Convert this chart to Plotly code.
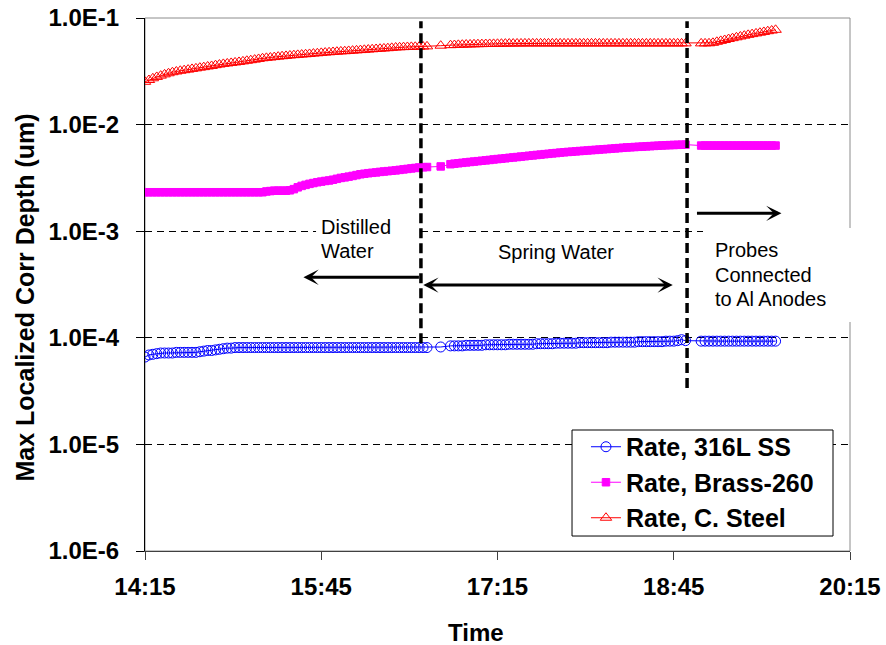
import pandas as pd
import plotly.graph_objects as go

# ---------------- data ----------------
DAY = "2000-01-01"
START = "14:15"

# minutes elapsed since 14:15 for every reading
ELAPSED_MIN = [
    0, 2, 4, 6, 8, 10, 12, 14, 16, 18,
    20, 22, 24, 26, 28, 30, 32, 34, 36, 38,
    40, 42, 44, 46, 48, 50, 52, 54, 56, 58,
    60, 62, 64, 66, 68, 70, 72, 74, 76, 78,
    80, 82, 84, 86, 88, 90, 92, 94, 96, 98,
    100, 102, 104, 106, 108, 110, 112, 114, 116, 118,
    120, 122, 124, 126, 128, 130, 132, 134, 136, 138,
    140, 142, 144,
    151,
    156, 158, 160, 162, 164, 166, 168, 170, 172, 174,
    176, 178, 180, 182, 184, 186, 188, 190, 192, 194,
    196, 198, 200, 202, 204, 206, 208, 210, 212, 214,
    216, 218, 220, 222, 224, 226, 228, 230, 232, 234,
    236, 238, 240, 242, 244, 246, 248, 250, 252, 254,
    256, 258, 260, 262, 264, 266, 268, 270, 272, 274,
    276,
    284, 286, 288, 290, 292, 294, 296, 298, 300, 302,
    304, 306, 308, 310, 312, 314, 316, 318, 320, 322,
]

RATE_316L_SS = [
    6.6e-5, 6.9e-5, 7.0e-5, 7.1e-5, 7.2e-5, 7.2e-5, 7.2e-5, 7.2e-5, 7.3e-5, 7.3e-5,
    7.3e-5, 7.3e-5, 7.3e-5, 7.3e-5, 7.4e-5, 7.5e-5, 7.6e-5, 7.6e-5, 7.7e-5, 7.8e-5,
    7.9e-5, 8.0e-5, 8.0e-5, 8.1e-5, 8.1e-5, 8.1e-5, 8.1e-5, 8.1e-5, 8.1e-5, 8.1e-5,
    8.1e-5, 8.1e-5, 8.1e-5, 8.1e-5, 8.1e-5, 8.1e-5, 8.1e-5, 8.1e-5, 8.1e-5, 8.1e-5,
    8.1e-5, 8.1e-5, 8.1e-5, 8.1e-5, 8.1e-5, 8.1e-5, 8.1e-5, 8.1e-5, 8.1e-5, 8.1e-5,
    8.1e-5, 8.1e-5, 8.1e-5, 8.1e-5, 8.1e-5, 8.1e-5, 8.1e-5, 8.1e-5, 8.1e-5, 8.1e-5,
    8.1e-5, 8.1e-5, 8.1e-5, 8.1e-5, 8.1e-5, 8.1e-5, 8.1e-5, 8.1e-5, 8.1e-5, 8.1e-5,
    8.1e-5, 8.1e-5, 8.1e-5,
    8.2e-5,
    8.4e-5, 8.4e-5, 8.4e-5, 8.4e-5, 8.5e-5, 8.5e-5, 8.5e-5, 8.5e-5, 8.5e-5, 8.6e-5,
    8.6e-5, 8.6e-5, 8.6e-5, 8.6e-5, 8.6e-5, 8.7e-5, 8.7e-5, 8.7e-5, 8.7e-5, 8.7e-5,
    8.7e-5, 8.7e-5, 8.8e-5, 8.8e-5, 8.8e-5, 8.8e-5, 8.8e-5, 8.9e-5, 8.9e-5, 8.9e-5,
    8.9e-5, 8.9e-5, 8.9e-5, 9.0e-5, 9.0e-5, 9.0e-5, 9.0e-5, 9.0e-5, 9.0e-5, 9.0e-5,
    9.0e-5, 9.1e-5, 9.1e-5, 9.1e-5, 9.1e-5, 9.1e-5, 9.1e-5, 9.1e-5, 9.2e-5, 9.2e-5,
    9.2e-5, 9.2e-5, 9.2e-5, 9.2e-5, 9.2e-5, 9.3e-5, 9.3e-5, 9.3e-5, 9.4e-5, 9.6e-5,
    9.4e-5,
    9.3e-5, 9.3e-5, 9.3e-5, 9.3e-5, 9.3e-5, 9.3e-5, 9.3e-5, 9.3e-5, 9.3e-5, 9.3e-5,
    9.3e-5, 9.3e-5, 9.3e-5, 9.3e-5, 9.3e-5, 9.3e-5, 9.3e-5, 9.3e-5, 9.3e-5, 9.3e-5,
]

RATE_BRASS_260 = [
    2.32e-3, 2.32e-3, 2.32e-3, 2.32e-3, 2.32e-3, 2.32e-3, 2.32e-3, 2.32e-3, 2.32e-3, 2.32e-3,
    2.32e-3, 2.32e-3, 2.32e-3, 2.32e-3, 2.32e-3, 2.32e-3, 2.32e-3, 2.32e-3, 2.32e-3, 2.32e-3,
    2.32e-3, 2.32e-3, 2.32e-3, 2.32e-3, 2.32e-3, 2.32e-3, 2.32e-3, 2.32e-3, 2.32e-3, 2.32e-3,
    2.32e-3, 2.36e-3, 2.38e-3, 2.40e-3, 2.40e-3, 2.40e-3, 2.40e-3, 2.42e-3, 2.48e-3, 2.58e-3,
    2.66e-3, 2.72e-3, 2.78e-3, 2.83e-3, 2.88e-3, 2.92e-3, 2.96e-3, 2.99e-3, 3.04e-3, 3.10e-3,
    3.16e-3, 3.20e-3, 3.25e-3, 3.30e-3, 3.36e-3, 3.42e-3, 3.46e-3, 3.50e-3, 3.53e-3, 3.56e-3,
    3.60e-3, 3.63e-3, 3.66e-3, 3.69e-3, 3.72e-3, 3.76e-3, 3.80e-3, 3.84e-3, 3.88e-3, 3.92e-3,
    3.96e-3, 3.98e-3, 4.00e-3,
    4.05e-3,
    4.25e-3, 4.30e-3, 4.34e-3, 4.38e-3, 4.42e-3, 4.46e-3, 4.50e-3, 4.54e-3, 4.58e-3, 4.62e-3,
    4.66e-3, 4.71e-3, 4.75e-3, 4.79e-3, 4.83e-3, 4.88e-3, 4.92e-3, 4.96e-3, 5.01e-3, 5.05e-3,
    5.10e-3, 5.14e-3, 5.19e-3, 5.23e-3, 5.28e-3, 5.32e-3, 5.37e-3, 5.41e-3, 5.46e-3, 5.50e-3,
    5.54e-3, 5.57e-3, 5.61e-3, 5.65e-3, 5.68e-3, 5.72e-3, 5.76e-3, 5.79e-3, 5.83e-3, 5.87e-3,
    5.90e-3, 5.94e-3, 5.98e-3, 6.02e-3, 6.06e-3, 6.10e-3, 6.13e-3, 6.16e-3, 6.19e-3, 6.22e-3,
    6.25e-3, 6.28e-3, 6.31e-3, 6.34e-3, 6.37e-3, 6.40e-3, 6.42e-3, 6.44e-3, 6.46e-3, 6.48e-3,
    6.49e-3,
    6.36e-3, 6.36e-3, 6.36e-3, 6.36e-3, 6.36e-3, 6.36e-3, 6.36e-3, 6.36e-3, 6.36e-3, 6.36e-3,
    6.36e-3, 6.36e-3, 6.36e-3, 6.36e-3, 6.36e-3, 6.36e-3, 6.36e-3, 6.36e-3, 6.36e-3, 6.36e-3,
]

RATE_C_STEEL = [
    2.52e-2, 2.62e-2, 2.72e-2, 2.80e-2, 2.88e-2, 2.96e-2, 3.03e-2, 3.10e-2, 3.15e-2, 3.20e-2,
    3.24e-2, 3.28e-2, 3.33e-2, 3.37e-2, 3.42e-2, 3.46e-2, 3.51e-2, 3.55e-2, 3.61e-2, 3.66e-2,
    3.71e-2, 3.75e-2, 3.79e-2, 3.83e-2, 3.87e-2, 3.92e-2, 3.97e-2, 4.02e-2, 4.07e-2, 4.13e-2,
    4.19e-2, 4.23e-2, 4.26e-2, 4.30e-2, 4.34e-2, 4.38e-2, 4.41e-2, 4.45e-2, 4.48e-2, 4.51e-2,
    4.54e-2, 4.57e-2, 4.60e-2, 4.64e-2, 4.67e-2, 4.71e-2, 4.74e-2, 4.77e-2, 4.80e-2, 4.83e-2,
    4.86e-2, 4.88e-2, 4.91e-2, 4.94e-2, 4.97e-2, 5.00e-2, 5.03e-2, 5.06e-2, 5.09e-2, 5.12e-2,
    5.15e-2, 5.18e-2, 5.21e-2, 5.25e-2, 5.29e-2, 5.31e-2, 5.33e-2, 5.35e-2, 5.36e-2, 5.37e-2,
    5.38e-2, 5.40e-2, 5.42e-2,
    5.50e-2,
    5.56e-2, 5.58e-2, 5.60e-2, 5.62e-2, 5.64e-2, 5.65e-2, 5.67e-2, 5.68e-2, 5.69e-2, 5.70e-2,
    5.71e-2, 5.72e-2, 5.73e-2, 5.74e-2, 5.75e-2, 5.76e-2, 5.76e-2, 5.77e-2, 5.77e-2, 5.78e-2,
    5.78e-2, 5.78e-2, 5.78e-2, 5.78e-2, 5.78e-2, 5.78e-2, 5.78e-2, 5.78e-2, 5.78e-2, 5.78e-2,
    5.78e-2, 5.78e-2, 5.78e-2, 5.78e-2, 5.78e-2, 5.78e-2, 5.78e-2, 5.78e-2, 5.78e-2, 5.78e-2,
    5.78e-2, 5.78e-2, 5.78e-2, 5.78e-2, 5.78e-2, 5.78e-2, 5.78e-2, 5.78e-2, 5.78e-2, 5.78e-2,
    5.78e-2, 5.78e-2, 5.78e-2, 5.78e-2, 5.78e-2, 5.78e-2, 5.78e-2, 5.78e-2, 5.78e-2, 5.78e-2,
    5.78e-2,
    5.78e-2, 5.78e-2, 5.79e-2, 5.85e-2, 5.98e-2, 6.10e-2, 6.22e-2, 6.35e-2, 6.47e-2, 6.59e-2,
    6.71e-2, 6.83e-2, 6.95e-2, 7.06e-2, 7.17e-2, 7.28e-2, 7.40e-2, 7.52e-2, 7.63e-2, 7.75e-2,
]

SERIES_NAMES = ["Rate, 316L SS", "Rate, Brass-260", "Rate, C. Steel"]
X_TICK_LABELS = ["14:15", "15:45", "17:15", "18:45", "20:15"]
Y_TICK_VALUES = [1e-6, 1e-5, 1e-4, 1e-3, 1e-2, 1e-1]
Y_TICK_LABELS = ["1.0E-6", "1.0E-5", "1.0E-4", "1.0E-3", "1.0E-2", "1.0E-1"]
X_TITLE = "Time"
Y_TITLE = "Max Localized Corr Depth (um)"

# ---------------- helpers ----------------
BASE = pd.Timestamp(f"{DAY} {START}")


def at(minutes):
    return (BASE + pd.Timedelta(minutes=minutes)).strftime("%Y-%m-%d %H:%M:%S")


times = [at(m) for m in ELAPSED_MIN]
FONT = "Liberation Sans, Arial, sans-serif"

fig = go.Figure()
styles = [
    dict(color="#0000FF", symbol="circle-open", size=10),
    dict(color="#FF00FF", symbol="square", size=7.5),
    dict(color="#FF0000", symbol="triangle-up-open", size=10),
]
for name, vals, st in zip(SERIES_NAMES, [RATE_316L_SS, RATE_BRASS_260, RATE_C_STEEL], styles):
    fig.add_trace(go.Scatter(
        x=times, y=vals, name=name, mode="lines+markers",
        line=dict(color=st["color"], width=1),
        marker=dict(symbol=st["symbol"], size=st["size"], color=st["color"],
                    line=dict(color=st["color"], width=1)),
    ))

# ---------------- shapes ----------------
shapes = [
    # plot-area frame (grey top / right)
    dict(type="rect", xref="paper", yref="paper", x0=0, x1=1, y0=0, y1=1,
         line=dict(color="#8c8c8c", width=1), fillcolor="rgba(0,0,0,0)", layer="below"),
    # white backgrounds of the text boxes
    dict(type="rect", xref="paper", yref="paper", x0=0.2426, x1=0.3858, y0=0.542, y1=0.636,
         line=dict(width=0), fillcolor="white", layer="above"),
    dict(type="rect", xref="paper", yref="paper", x0=0.7915, x1=1.0113, y0=0.4296, y1=0.606,
         line=dict(width=0), fillcolor="white", layer="above"),
    # legend frame
    dict(type="rect", xref="paper", yref="paper", x0=0.6057, x1=0.9759, y0=0.0281, y1=0.227,
         line=dict(color="black", width=1), fillcolor="white", layer="above"),
    # heavy dashed markers of the water changes
    dict(type="line", xref="x", yref="paper", x0=at(140.9), x1=at(140.9), y0=0.390, y1=0.994,
         line=dict(color="black", width=3.5, dash="10px,5px"), layer="above"),
    dict(type="line", xref="x", yref="paper", x0=at(276.8), x1=at(276.8), y0=0.306, y1=0.994,
         line=dict(color="black", width=3.5, dash="10px,5px"), layer="above"),
]

# ---------------- annotations ----------------
ann = []
arrow_common = dict(text="", showarrow=True, xref="x", yref="y", arrowcolor="black",
                    arrowwidth=3, arrowhead=3, arrowsize=0.85, standoff=0, startstandoff=0, ay=0)
ann.append(dict(x=at(80.9), y=-3.432, ax=117, **arrow_common))
ann.append(dict(x=at(269.5), y=-3.505, ax=-251, arrowside="end+start",
                startarrowhead=3, startarrowsize=0.85, **arrow_common))
ann.append(dict(x=at(325.0), y=-2.832, ax=-86, **arrow_common))

label_common = dict(showarrow=False, xref="x", yref="y", xanchor="left", yanchor="middle",
                    font=dict(family=FONT, size=20, color="black"))
for txt, xm, ylog in [("Distilled", 89.0, -2.965), ("Water", 89.0, -3.183),
                      ("Spring Water", 179.0, -3.198),
                      ("Probes", 290.0, -3.176), ("Connected", 290.0, -3.411),
                      ("to Al Anodes", 290.0, -3.639)]:
    ann.append(dict(text=txt, x=at(xm), y=ylog, **label_common))

# axis titles
ann.append(dict(text=Y_TITLE, xref="paper", yref="paper", x=-0.1716, y=0.4756,
                showarrow=False, textangle=-90, xanchor="center", yanchor="middle",
                font=dict(family=FONT, size=25, color="black", weight="bold")))
ann.append(dict(text=X_TITLE, xref="paper", yref="paper", x=0.4688, y=-0.152,
                showarrow=False, xanchor="center", yanchor="middle",
                font=dict(family=FONT, size=24, color="black", weight="bold")))

fig.update_layout(
    width=886, height=645, autosize=False,
    margin=dict(l=145, r=36, t=18, b=94),
    paper_bgcolor="white", plot_bgcolor="white",
    font=dict(family=FONT, color="black"),
    showlegend=True,
    legend=dict(x=0.6255, y=0.2383, xanchor="left", yanchor="top",
                bgcolor="rgba(0,0,0,0)", borderwidth=0,
                font=dict(family=FONT, size=25, color="black", weight="bold"),
                tracegroupgap=0, itemwidth=30),
    shapes=shapes,
    annotations=ann,
)

fig.update_xaxes(
    type="date", range=[at(0), at(360)], automargin=False,
    tickvals=[f"{DAY} {t}" for t in X_TICK_LABELS], ticktext=X_TICK_LABELS,
    ticks="outside", ticklen=8, tickcolor="#404040", tickwidth=1,
    showline=True, linecolor="#404040", linewidth=1,
    showgrid=False, zeroline=False, ticklabeloverflow="allow",
    tickfont=dict(family=FONT, size=24, color="black", weight="bold"),
    ticklabelstandoff=6,
)
fig.update_yaxes(
    type="log", range=[-6, -1], automargin=False,
    tickvals=Y_TICK_VALUES, ticktext=Y_TICK_LABELS,
    ticks="outside", ticklen=8, tickcolor="black", tickwidth=1,
    showline=True, linecolor="black", linewidth=1,
    showgrid=True, gridcolor="black", gridwidth=1, griddash="7px,5px",
    zeroline=False, ticklabeloverflow="allow",
    tickfont=dict(family=FONT, size=24, color="black", weight="bold"),
    ticklabelstandoff=12,
)

# the page's default 8px body margin would shift the figure; remove it
fig.write_html("out.html", config={"displayModeBar": False},
               post_script="document.body.style.margin='0';")
